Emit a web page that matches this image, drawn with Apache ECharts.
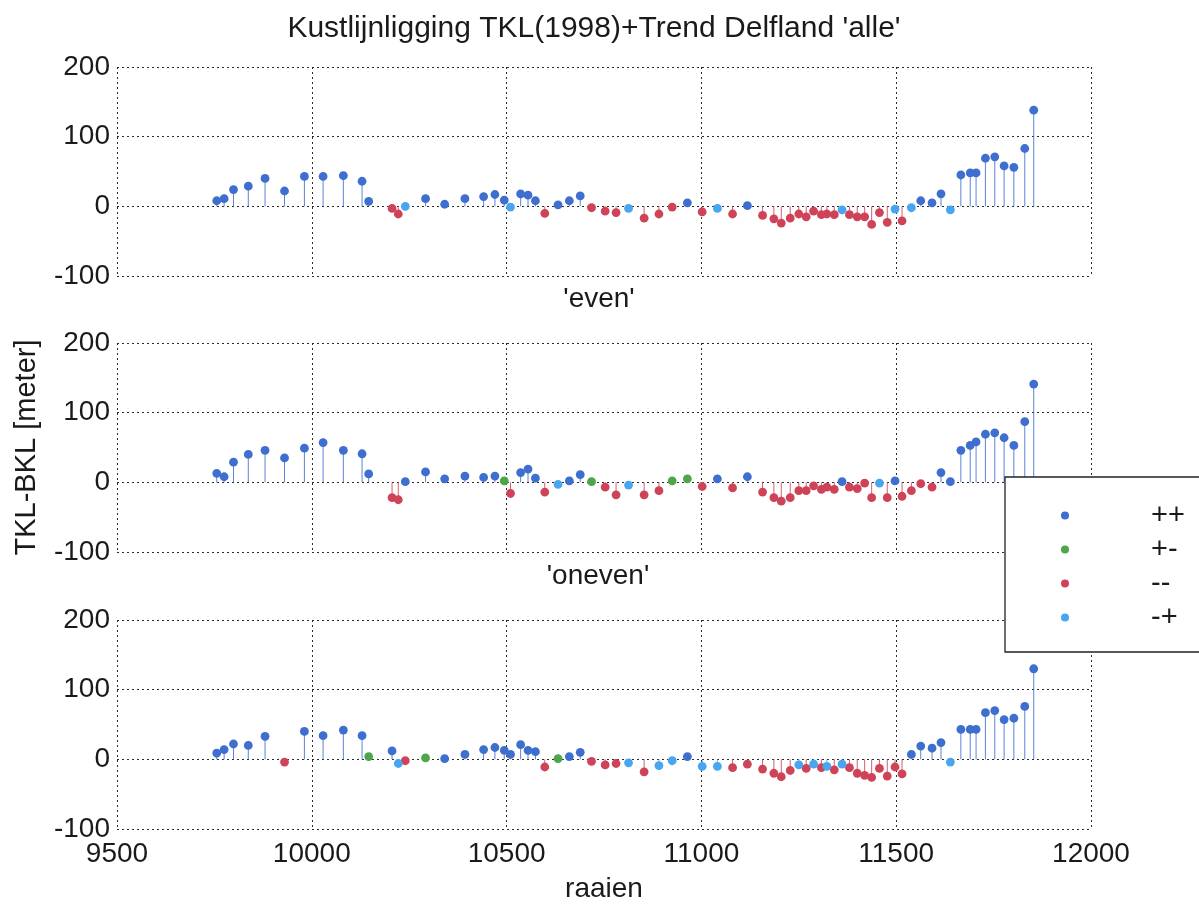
<!DOCTYPE html>
<html>
<head>
<meta charset="utf-8">
<title>Kustlijnligging TKL(1998)+Trend Delfland</title>
<script src="https://cdn.jsdelivr.net/npm/echarts@6/dist/echarts.min.js"></script>
<style>
  html, body { margin: 0; padding: 0; background: #ffffff; }
  #chart { width: 1199px; height: 906px; }
</style>
</head>
<body>
<div id="chart"></div>
<script>
// Raai numbers shared by the three panels
const raaien = [
  9756, 9775, 9799, 9837, 9880, 9930, 9981, 10029, 10081, 10129,
  10146, 10206, 10222, 10240, 10292, 10341, 10393, 10441, 10470, 10494,
  10510, 10536, 10555, 10574, 10598, 10632, 10661, 10689, 10718, 10753,
  10781, 10813, 10853, 10891, 10925, 10964, 11002, 11041, 11080, 11118,
  11157, 11186, 11205, 11228, 11250, 11269, 11288, 11308, 11322, 11341,
  11361, 11380, 11400, 11419, 11437, 11457, 11477, 11497, 11515, 11539,
  11563, 11592, 11615, 11639, 11666, 11690, 11705, 11729, 11753, 11777,
  11802, 11830, 11853
];

// TKL-BKL [meter], all raaien
const alleWaarden = [
  8, 11, 24, 29, 40, 22, 43, 43, 44, 36,
  7, -3, -11, 0, 11, 3, 11, 14, 17, 9,
  -1, 18, 16, 8, -10, 2, 8, 15, -2, -7,
  -9, -3, -17, -11, -1, 5, -8, -3, -11, 1,
  -13, -18, -24, -17, -11, -15, -7, -12, -11, -12,
  -5, -12, -15, -15, -26, -9, -23, -4, -21, -2,
  8, 5, 18, -5, 45, 48, 48, 69, 71, 58,
  56, 83, 138
];
const alleKlasse = [
  '++', '++', '++', '++', '++', '++', '++', '++', '++', '++',
  '++', '--', '--', '-+', '++', '++', '++', '++', '++', '++',
  '-+', '++', '++', '++', '--', '++', '++', '++', '--', '--',
  '--', '-+', '--', '--', '--', '++', '--', '-+', '--', '++',
  '--', '--', '--', '--', '--', '--', '--', '--', '--', '--',
  '-+', '--', '--', '--', '--', '--', '--', '-+', '--', '-+',
  '++', '++', '++', '-+', '++', '++', '++', '++', '++', '++',
  '++', '++', '++'
];

// TKL-BKL [meter], 'even'
const evenWaarden = [
  13, 8, 29, 40, 46, 35, 49, 57, 46, 41,
  12, -22, -25, 1, 15, 5, 9, 7, 9, 2,
  -16, 14, 19, 6, -14, -3, 2, 11, 1, -7,
  -18, -4, -18, -12, 2, 5, -6, 5, -8, 8,
  -14, -22, -27, -22, -12, -12, -5, -10, -7, -10,
  1, -7, -9, -1, -22, -1, -22, 2, -20, -12,
  -2, -7, 14, 1, 46, 53, 58, 69, 71, 64,
  53, 87, 141
];
const evenKlasse = [
  '++', '++', '++', '++', '++', '++', '++', '++', '++', '++',
  '++', '--', '--', '++', '++', '++', '++', '++', '++', '+-',
  '--', '++', '++', '++', '--', '-+', '++', '++', '+-', '--',
  '--', '-+', '--', '--', '+-', '+-', '--', '++', '--', '++',
  '--', '--', '--', '--', '--', '--', '--', '--', '--', '--',
  '++', '--', '--', '--', '--', '-+', '--', '++', '--', '--',
  '--', '--', '++', '++', '++', '++', '++', '++', '++', '++',
  '++', '++', '++'
];

// TKL-BKL [meter], 'oneven'
const onevenWaarden = [
  9, 14, 22, 20, 33, -4, 40, 34, 42, 34,
  4, 12, -6, -2, 2, 1, 7, 14, 17, 13,
  7, 21, 13, 11, -11, 1, 4, 10, -3, -8,
  -6, -5, -18, -9, -2, 4, -10, -10, -12, -7,
  -14, -20, -25, -16, -8, -13, -7, -12, -10, -15,
  -7, -12, -20, -23, -26, -13, -24, -11, -21, 7,
  19, 16, 24, -4, 43, 43, 43, 67, 70, 57,
  59, 76, 130
];
const onevenKlasse = [
  '++', '++', '++', '++', '++', '--', '++', '++', '++', '++',
  '+-', '++', '-+', '--', '+-', '++', '++', '++', '++', '++',
  '++', '++', '++', '++', '--', '+-', '++', '++', '--', '--',
  '--', '-+', '--', '-+', '-+', '++', '-+', '-+', '--', '--',
  '--', '--', '--', '--', '-+', '--', '-+', '--', '-+', '--',
  '-+', '--', '--', '--', '--', '--', '--', '--', '--', '++',
  '++', '++', '++', '-+', '++', '++', '++', '++', '++', '++',
  '++', '++', '++'
];

// Classes and their marker colours
const klassen = ['++', '+-', '--', '-+'];
const klasseKleuren = ['#3e6fcf', '#4ea64a', '#cf4358', '#47a6ef'];

// Axis ticks
const xTicks = [9500, 10000, 10500, 11000, 11500, 12000];
const yTicks = [-100, 0, 100, 200];

const panelTitels = ["Kustlijnligging TKL(1998)+Trend Delfland 'alle'", "'even'", "'oneven'"];
const panelData = [
  { waarden: alleWaarden, klasse: alleKlasse },
  { waarden: evenWaarden, klasse: evenKlasse },
  { waarden: onevenWaarden, klasse: onevenKlasse }
];

const FONT = '"Liberation Sans", Arial, Helvetica, sans-serif';
const TXT = '#1a1a1a';
const gridTops = [67, 343, 620];
const gridHeight = 209;

const dotted = { color: '#2a2a2a', width: 1, type: [2, 3] };

// Stem: thin line from the zero line to the value, topped with a filled dot
function renderStem(params, api) {
  const x = api.value(0);
  const v = api.value(1);
  const p0 = api.coord([x, 0]);
  const p1 = api.coord([x, v]);
  const c = api.visual('color');
  return {
    type: 'group',
    children: [
      { type: 'line', shape: { x1: p0[0], y1: p0[1], x2: p1[0], y2: p1[1] },
        style: { stroke: c, lineWidth: 1, opacity: 0.85 } },
      { type: 'circle', shape: { cx: p1[0], cy: p1[1], r: 4.4 },
        style: { fill: c } }
    ]
  };
}

const grids = [], xAxes = [], yAxes = [], series = [];
panelData.forEach((pd, i) => {
  grids.push({ left: 117, right: 108, top: gridTops[i], height: gridHeight });
  xAxes.push({
    type: 'value', gridIndex: i,
    min: xTicks[0], max: xTicks[xTicks.length - 1], interval: 500,
    axisLine: { show: false }, axisTick: { show: false },
    axisLabel: { show: i === 2, color: TXT, fontSize: 28, fontFamily: FONT, margin: 11,
                 formatter: v => String(v) },
    splitLine: { show: true, lineStyle: dotted },
    name: i === 2 ? 'raaien' : '', nameLocation: 'middle', nameGap: 46,
    nameTextStyle: { color: TXT, fontSize: 28, fontFamily: FONT }
  });
  yAxes.push({
    type: 'value', gridIndex: i,
    min: yTicks[0], max: yTicks[yTicks.length - 1], interval: 100,
    axisLine: { show: false }, axisTick: { show: false },
    axisLabel: { color: TXT, fontSize: 28, fontFamily: FONT, margin: 7,
                 formatter: v => String(v) },
    splitLine: { show: true, lineStyle: dotted },
    name: i === 1 ? 'TKL-BKL [meter]' : '', nameLocation: 'middle', nameGap: 76,
    nameTextStyle: { color: TXT, fontSize: 29, fontFamily: FONT }
  });
  klassen.forEach((k, ki) => {
    const data = [];
    raaien.forEach((r, j) => { if (pd.klasse[j] === k) data.push([r, pd.waarden[j]]); });
    series.push({
      name: k, type: 'custom', xAxisIndex: i, yAxisIndex: i,
      renderItem: renderStem, encode: { x: 0, y: 1 },
      itemStyle: { color: klasseKleuren[ki] },
      data: data, z: 3, silent: true
    });
  });
});

const chart = echarts.init(document.getElementById('chart'), null, { renderer: 'canvas' });
chart.setOption({
  backgroundColor: '#ffffff',
  animation: false,
  title: [
    { text: panelTitels[0], left: 594, top: 14, textAlign: 'center', padding: 0,
      textStyle: { color: TXT, fontSize: 30, fontWeight: 'normal', fontFamily: FONT } },
    { text: panelTitels[1], left: 599, top: 285, textAlign: 'center', padding: 0,
      textStyle: { color: TXT, fontSize: 28, fontWeight: 'normal', fontFamily: FONT } },
    { text: panelTitels[2], left: 598, top: 562, textAlign: 'center', padding: 0,
      textStyle: { color: TXT, fontSize: 28, fontWeight: 'normal', fontFamily: FONT } }
  ],
  legend: {
    data: klassen, orient: 'vertical', left: 1005, top: 477,
    icon: 'circle', itemWidth: 8, itemHeight: 8, itemGap: 5,
    padding: [24, 60, 20, 56],
    backgroundColor: '#ffffff', borderColor: '#222222', borderWidth: 1.3, borderRadius: 0,
    selectedMode: false, z: 10,
    formatter: n => '{t|' + n + '}',
    textStyle: {
      color: TXT, fontFamily: FONT,
      rich: { t: { fontSize: 29, padding: [0, 0, 0, 77], fontFamily: FONT, color: TXT } }
    }
  },
  grid: grids,
  xAxis: xAxes,
  yAxis: yAxes,
  series: series
});
</script>
</body>
</html>
